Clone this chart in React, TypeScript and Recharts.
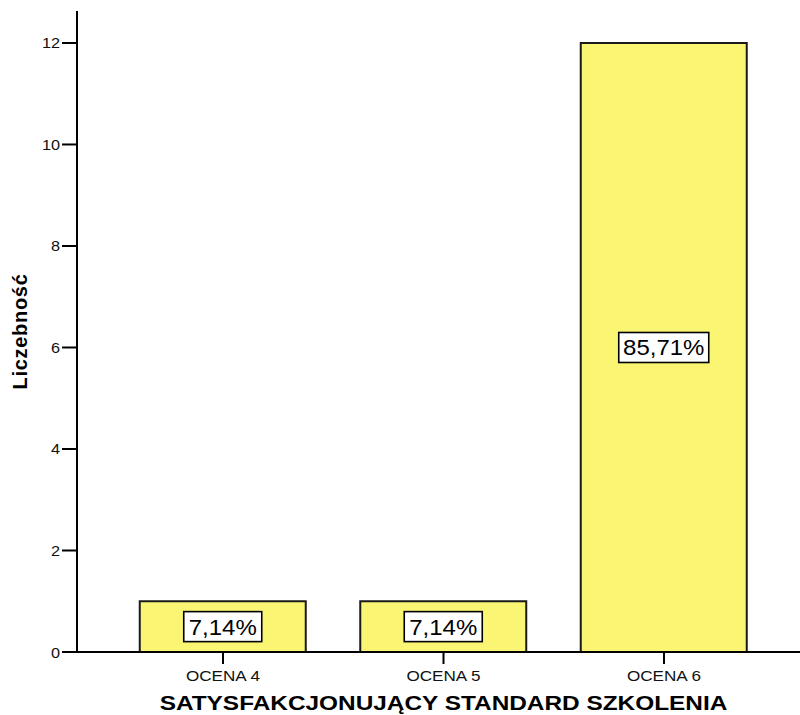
import React from "react";
import { BarChart, Bar, XAxis, YAxis, LabelList } from "recharts";

const categories = ["OCENA 4", "OCENA 5", "OCENA 6"];
const counts = [1, 1, 12];
const percentLabels = ["7,14%", "7,14%", "85,71%"];
const yTicks = [0, 2, 4, 6, 8, 10, 12];
const yMax = 12.63;

const xTitle = "SATYSFAKCJONUJĄCY STANDARD SZKOLENIA";
const yTitle = "Liczebność";

const FONT = "'Liberation Sans', Arial, Helvetica, sans-serif";
const PAD_L = 35.75;
const PAD_R = 25.75;

const data = categories.map((c, i) => ({ name: c, count: counts[i], pct: percentLabels[i] }));

const SText = (props: any) => {
  const { x, y, sx = 1, children, ...rest } = props;
  return (
    <g transform={`translate(${x} ${y}) scale(${sx} 1)`}>
      <text x={0} y={0} fontFamily={FONT} {...rest}>
        {children}
      </text>
    </g>
  );
};

const XTick = (props: any) => {
  const { x, y, payload } = props;
  return (
    <SText x={x} y={y + 15} sx={1.14} textAnchor="middle" fontSize={15} fill="#111">
      {payload.value}
    </SText>
  );
};

const YTick = (props: any) => {
  const { x, y, payload } = props;
  return (
    <SText x={x} y={y + 5.5} sx={1.05} textAnchor="end" fontSize={15.5} fill="#111">
      {payload.value}
    </SText>
  );
};

const PctLabel = (props: any) => {
  const { x, y, width, height, value } = props;
  const cx = Number(x) + Number(width) / 2;
  const cy = Number(y) + Number(height) / 2;
  const s = String(value);
  const w = 12 * s.length + 18;
  const h = 30;
  return (
    <g>
      <rect x={cx - w / 2} y={cy - h / 2} width={w} height={h} fill="#fff" stroke="#000" strokeWidth={1.6} />
      <SText x={cx} y={cy + 8} sx={1.09} textAnchor="middle" fontSize={22} fill="#000">
        {s}
      </SText>
    </g>
  );
};

export default function App() {
  return (
    <div style={{ position: "absolute", left: 0, top: 0, width: 800, height: 715, background: "#fff" }}>
      <BarChart width={800} height={715} data={data} margin={{ top: 11, right: 0, left: 0, bottom: 0 }}>
        <XAxis
          dataKey="name"
          xAxisId="top"
          orientation="top"
          height={0}
          tick={false}
          tickLine={false}
          axisLine={{ stroke: "#000", strokeWidth: 2 }}
          padding={{ left: PAD_L, right: PAD_R }}
        />
        <XAxis
          dataKey="name"
          height={63}
          interval={0}
          tickSize={12}
          tickMargin={2}
          tick={<XTick />}
          axisLine={{ stroke: "#000", strokeWidth: 2 }}
          tickLine={{ stroke: "#000", strokeWidth: 2 }}
          padding={{ left: PAD_L, right: PAD_R }}
          label={{
            content: (p: any) => {
              const vb = p.viewBox || {};
              const cx = vb.x + PAD_L + (vb.width - PAD_L - PAD_R) / 2;
              return (
                <SText x={cx} y={vb.y + 58} sx={1.22} textAnchor="middle" fontWeight="bold" fontSize={20} fill="#000">
                  {xTitle}
                </SText>
              );
            },
          }}
        />
        <YAxis
          width={77}
          domain={[0, yMax]}
          ticks={yTicks}
          interval={0}
          tickSize={15}
          tickMargin={2}
          tick={<YTick />}
          axisLine={{ stroke: "#000", strokeWidth: 2 }}
          tickLine={{ stroke: "#000", strokeWidth: 2 }}
          label={{
            content: (p: any) => {
              const vb = p.viewBox || {};
              const cy = vb.y + vb.height / 2;
              return (
                <text x={27} y={cy} transform={`rotate(-90 27 ${cy})`} textAnchor="middle" fontFamily={FONT} fontWeight="bold" fontSize={20} letterSpacing={0.7} fill="#000">
                  {yTitle}
                </text>
              );
            },
          }}
        />
        <Bar dataKey="count" barSize={166} fill="#FAF573" stroke="#1a1a1a" strokeWidth={2} isAnimationActive={false}>
          <LabelList dataKey="pct" content={<PctLabel />} />
        </Bar>
      </BarChart>
    </div>
  );
}
